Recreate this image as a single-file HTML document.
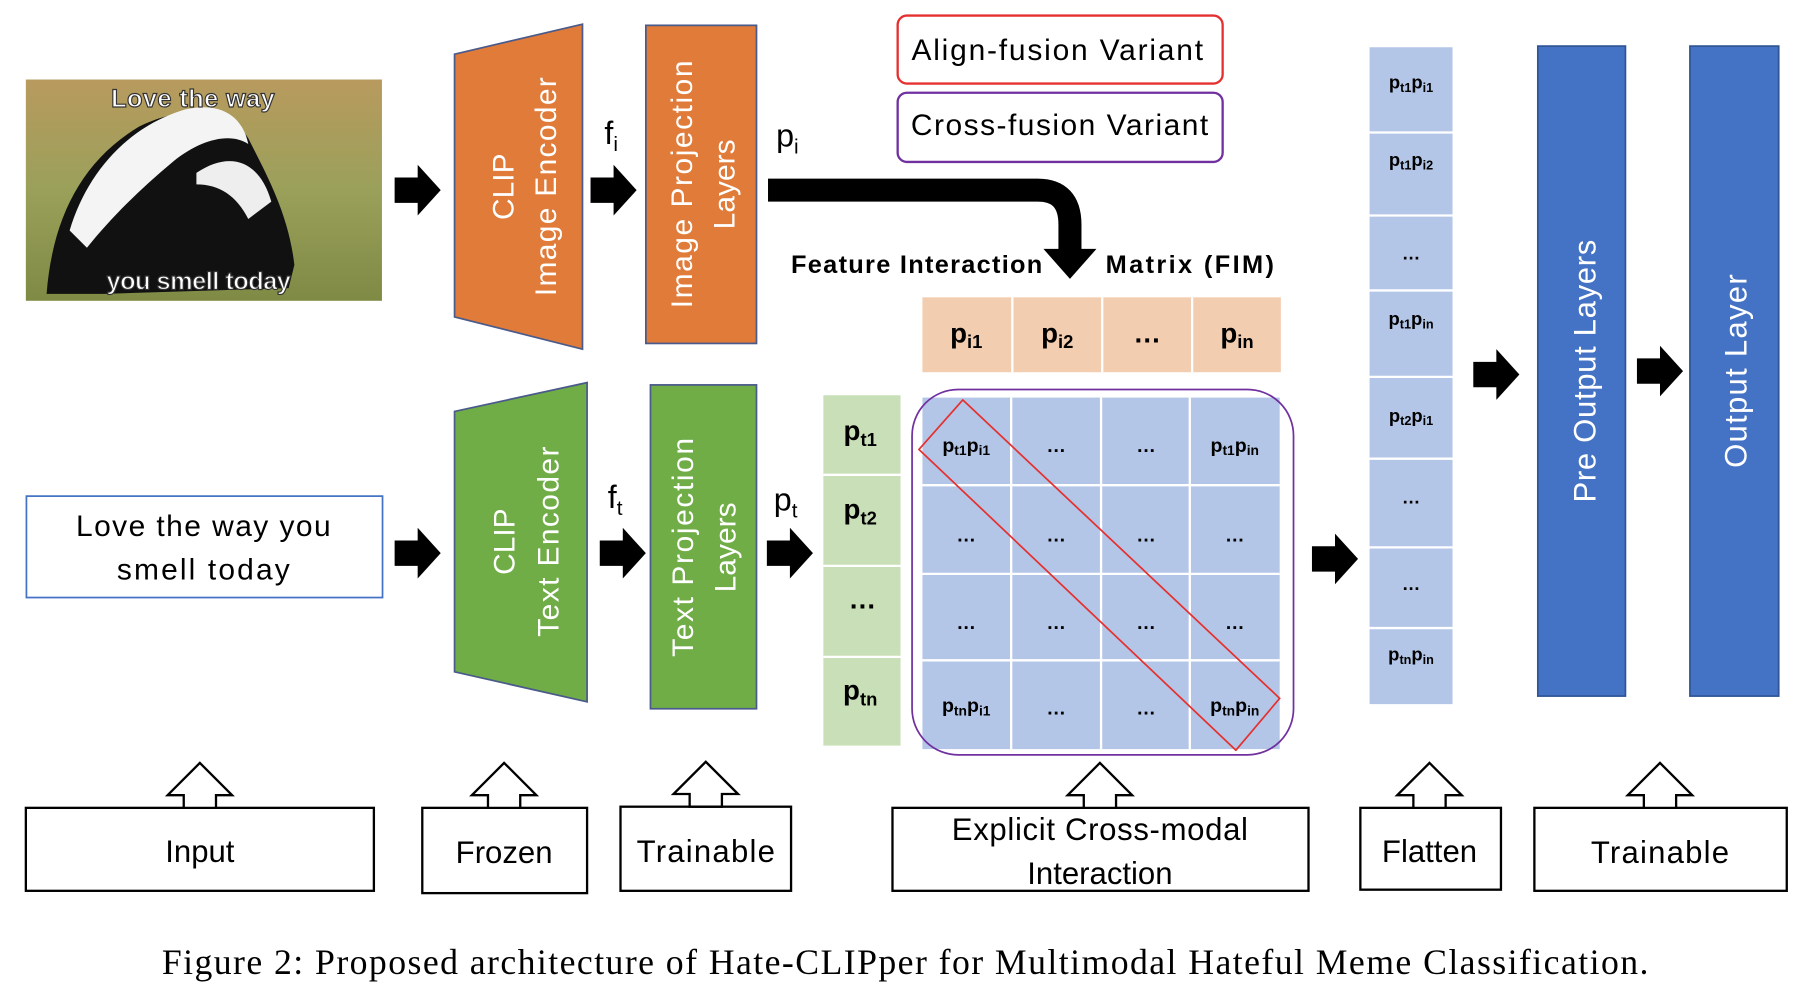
<!DOCTYPE html>
<html><head><meta charset="utf-8"><style>
html,body{margin:0;padding:0;background:#fff;}
svg{display:block;}
text{font-family:"Liberation Sans",sans-serif;}
</style></head><body>
<svg width="1808" height="998" viewBox="0 0 1568 866" xmlns="http://www.w3.org/2000/svg">
<defs>
<linearGradient id="bg" x1="0" y1="0" x2="0" y2="1">
<stop offset="0" stop-color="#b89a5e"/><stop offset="0.5" stop-color="#9aa05a"/><stop offset="1" stop-color="#7f8a44"/>
</linearGradient>
<g id="ba"><path d="M0,-11 L20,-11 L20,-22 L40,0 L20,22 L20,11 L0,11 Z" fill="#000"/></g>
<g id="ua"><path d="M0,0 L28,28 L14,28 L14,39 L-14,39 L-14,28 L-28,28 Z" fill="#fff" stroke="#000" stroke-width="2"/></g>
</defs>
<!-- meme image -->
<rect x="22" y="69" width="309" height="192" fill="url(#bg)"/>
<path d="M40,255 C45,190 70,140 120,110 C160,90 200,95 215,120 C230,150 250,185 255,230 L250,250 L90,255 Z" fill="#111"/>
<path d="M60,200 C75,150 110,110 160,95 C190,88 210,100 215,125 C200,115 175,120 150,140 C120,165 95,190 75,215 Z" fill="#f4f4f4"/>
<path d="M170,150 C200,130 225,140 235,175 L215,190 C205,170 190,160 170,160 Z" fill="#eee"/>
<text x="167" y="93" font-size="22" font-weight="bold" fill="#fff" stroke="#333" stroke-width="1" text-anchor="middle" textLength="142">Love the way</text>
<text x="172" y="251" font-size="22" font-weight="bold" fill="#fff" stroke="#333" stroke-width="1" text-anchor="middle" textLength="160">you smell today</text>
<!-- text input -->
<rect x="22.5" y="430.5" width="309" height="88" fill="#fff" stroke="#4472C4" stroke-width="1.5"/>
<text x="176" y="465" font-size="26" text-anchor="middle" textLength="221">Love the way you</text>
<text x="176" y="503" font-size="26" text-anchor="middle" textLength="150">smell today</text>
<!-- arrows -->
<use href="#ba" x="342" y="165"/><use href="#ba" x="512" y="165"/>
<use href="#ba" x="342" y="480"/><use href="#ba" x="520" y="480"/><use href="#ba" x="665" y="480"/>
<use href="#ba" x="1138" y="485"/><use href="#ba" x="1278" y="325"/><use href="#ba" x="1420" y="322"/>
<!-- image encoder -->
<polygon points="394,47 505,21 505,303 394,275" fill="#E07B39" stroke="#4a5a8a" stroke-width="1.5"/>
<text transform="translate(445,162) rotate(-90)" font-size="26" fill="#fff" text-anchor="middle">CLIP</text>
<text transform="translate(482,162) rotate(-90)" font-size="26" fill="#fff" text-anchor="middle" textLength="190">Image Encoder</text>
<rect x="560" y="22" width="96" height="276" fill="#E07B39" stroke="#4a5a8a" stroke-width="1.5"/>
<text transform="translate(600,160) rotate(-90)" font-size="26" fill="#fff" text-anchor="middle" textLength="215">Image Projection</text>
<text transform="translate(637,160) rotate(-90)" font-size="26" fill="#fff" text-anchor="middle">Layers</text>
<text x="524" y="125" font-size="28">f<tspan font-size="18" dy="6">i</tspan></text>
<text x="673" y="127" font-size="28">p<tspan font-size="18" dy="6">i</tspan></text>
<!-- text encoder -->
<polygon points="394,357 509,332 509,609 394,583" fill="#70AD47" stroke="#4a5a8a" stroke-width="1.5"/>
<text transform="translate(446,470) rotate(-90)" font-size="26" fill="#fff" text-anchor="middle">CLIP</text>
<text transform="translate(484,470) rotate(-90)" font-size="26" fill="#fff" text-anchor="middle" textLength="165">Text Encoder</text>
<rect x="564" y="334" width="92" height="281" fill="#70AD47" stroke="#4a5a8a" stroke-width="1.5"/>
<text transform="translate(601,475) rotate(-90)" font-size="26" fill="#fff" text-anchor="middle" textLength="190">Text Projection</text>
<text transform="translate(638,475) rotate(-90)" font-size="26" fill="#fff" text-anchor="middle">Layers</text>
<text x="527" y="441" font-size="28">f<tspan font-size="18" dy="6">t</tspan></text>
<text x="671" y="443" font-size="28">p<tspan font-size="18" dy="6">t</tspan></text>
<!-- big bent arrow -->
<path d="M666,165 L900,165 Q928,165 928,195 L928,218" fill="none" stroke="#000" stroke-width="20"/>
<polygon points="905,216 951,216 928,242" fill="#000"/>
<!-- variants -->
<rect x="778.5" y="13.5" width="282" height="59" rx="8" fill="#fff" stroke="#e53030" stroke-width="2"/>
<text x="917" y="52" font-size="26" text-anchor="middle" textLength="253">Align-fusion Variant</text>
<rect x="778.5" y="80.5" width="282" height="60" rx="8" fill="#fff" stroke="#7030A0" stroke-width="2"/>
<text x="919" y="117" font-size="26" text-anchor="middle" textLength="258">Cross-fusion Variant</text>
<text x="686" y="237" font-size="22" font-weight="bold" textLength="218">Feature Interaction</text>
<text x="959" y="237" font-size="22" font-weight="bold" textLength="146">Matrix (FIM)</text>
<!-- pi row -->
<rect x="800" y="258" width="311" height="65" fill="#F2CDB0"/>
<g stroke="#fff" stroke-width="2"><line x1="878" y1="258" x2="878" y2="323"/><line x1="956" y1="258" x2="956" y2="323"/><line x1="1034" y1="258" x2="1034" y2="323"/></g>
<g font-size="24" font-weight="bold" text-anchor="middle">
<text x="838" y="297">p<tspan font-size="16" dy="5">i1</tspan></text>
<text x="917" y="297">p<tspan font-size="16" dy="5">i2</tspan></text>
<text x="995" y="297">…</text>
<text x="1073" y="297">p<tspan font-size="16" dy="5">in</tspan></text>
</g>
<!-- pt column -->
<rect x="714" y="343" width="67" height="304" fill="#C9DFB8"/>
<g stroke="#fff" stroke-width="2"><line x1="714" y1="412" x2="781" y2="412"/><line x1="714" y1="491" x2="781" y2="491"/><line x1="714" y1="570" x2="781" y2="570"/></g>
<g font-size="24" font-weight="bold" text-anchor="middle">
<text x="746" y="382">p<tspan font-size="16" dy="5">t1</tspan></text>
<text x="746" y="450">p<tspan font-size="16" dy="5">t2</tspan></text>
<text x="748" y="528">…</text>
<text x="746" y="607">p<tspan font-size="16" dy="5">tn</tspan></text>
</g>
<!-- matrix -->
<rect x="800" y="345" width="310" height="305" fill="#B4C6E7"/>
<g stroke="#fff" stroke-width="2"><line x1="877" y1="345" x2="877" y2="650"/><line x1="955" y1="345" x2="955" y2="650"/><line x1="1032" y1="345" x2="1032" y2="650"/>
<line x1="800" y1="421" x2="1110" y2="421"/><line x1="800" y1="498" x2="1110" y2="498"/><line x1="800" y1="573" x2="1110" y2="573"/></g>
<g font-size="17" text-anchor="middle" font-weight="bold">
<text x="838" y="392">p<tspan font-size="12" dy="3">t1</tspan><tspan dy="-3">p</tspan><tspan font-size="12" dy="3">i1</tspan></text>
<text x="916" y="392">…</text><text x="994" y="392">…</text>
<text x="1071" y="392">p<tspan font-size="12" dy="3">t1</tspan><tspan dy="-3">p</tspan><tspan font-size="12" dy="3">in</tspan></text>
<text x="838" y="470">…</text><text x="916" y="470">…</text><text x="994" y="470">…</text><text x="1071" y="470">…</text>
<text x="838" y="546">…</text><text x="916" y="546">…</text><text x="994" y="546">…</text><text x="1071" y="546">…</text>
<text x="838" y="618">p<tspan font-size="12" dy="3">tn</tspan><tspan dy="-3">p</tspan><tspan font-size="12" dy="3">i1</tspan></text>
<text x="916" y="620">…</text><text x="994" y="620">…</text>
<text x="1071" y="618">p<tspan font-size="12" dy="3">tn</tspan><tspan dy="-3">p</tspan><tspan font-size="12" dy="3">in</tspan></text>
</g>
<rect x="791" y="338" width="331" height="317" rx="40" fill="none" stroke="#7030A0" stroke-width="1.5"/>
<polygon points="835,347 797,390 1072,651 1110,606" fill="none" stroke="#e53030" stroke-width="1.5" stroke-linejoin="round"/>
<!-- flatten column -->
<rect x="1188" y="41" width="72" height="570" fill="#B4C6E7"/>
<g stroke="#fff" stroke-width="2">
<line x1="1188" y1="115" x2="1260" y2="115"/><line x1="1188" y1="187" x2="1260" y2="187"/><line x1="1188" y1="252" x2="1260" y2="252"/><line x1="1188" y1="327" x2="1260" y2="327"/><line x1="1188" y1="398" x2="1260" y2="398"/><line x1="1188" y1="475" x2="1260" y2="475"/><line x1="1188" y1="545" x2="1260" y2="545"/></g>
<g font-size="16" text-anchor="middle" font-weight="bold">
<text x="1224" y="77">p<tspan font-size="11" dy="3">t1</tspan><tspan dy="-3">p</tspan><tspan font-size="11" dy="3">i1</tspan></text>
<text x="1224" y="144">p<tspan font-size="11" dy="3">t1</tspan><tspan dy="-3">p</tspan><tspan font-size="11" dy="3">i2</tspan></text>
<text x="1224" y="225">…</text>
<text x="1224" y="282">p<tspan font-size="11" dy="3">t1</tspan><tspan dy="-3">p</tspan><tspan font-size="11" dy="3">in</tspan></text>
<text x="1224" y="366">p<tspan font-size="11" dy="3">t2</tspan><tspan dy="-3">p</tspan><tspan font-size="11" dy="3">i1</tspan></text>
<text x="1224" y="437">…</text><text x="1224" y="512">…</text>
<text x="1224" y="573">p<tspan font-size="11" dy="3">tn</tspan><tspan dy="-3">p</tspan><tspan font-size="11" dy="3">in</tspan></text>
</g>
<!-- output layers -->
<rect x="1334" y="40" width="76" height="564" fill="#4472C4" stroke="#2F5597" stroke-width="1.5"/>
<text transform="translate(1384,322) rotate(-90)" font-size="27" fill="#fff" text-anchor="middle" textLength="228">Pre Output Layers</text>
<rect x="1466" y="40" width="77" height="564" fill="#4472C4" stroke="#2F5597" stroke-width="1.5"/>
<text transform="translate(1515,322) rotate(-90)" font-size="27" fill="#fff" text-anchor="middle" textLength="168">Output Layer</text>
<!-- bottom boxes -->
<g fill="#fff" stroke="#000" stroke-width="2">
<rect x="22" y="701" width="302" height="72"/><rect x="366" y="701" width="143" height="74"/><rect x="538" y="700" width="148" height="73"/>
<rect x="774" y="701" width="361" height="72"/><rect x="1180" y="701" width="122" height="71"/><rect x="1331" y="701" width="219" height="72"/>
</g>
<use href="#ua" x="173" y="662"/><use href="#ua" x="437" y="662"/><use href="#ua" x="612" y="661"/>
<use href="#ua" x="954" y="662"/><use href="#ua" x="1240" y="662"/><use href="#ua" x="1440" y="662"/>
<g font-size="27" text-anchor="middle">
<text x="173" y="748">Input</text><text x="437" y="749">Frozen</text><text x="612" y="748" textLength="120">Trainable</text>
<text x="954" y="729" textLength="257">Explicit Cross-modal</text><text x="954" y="767">Interaction</text>
<text x="1240" y="748">Flatten</text><text x="1440" y="749" textLength="120">Trainable</text>
</g>
<text x="785" y="845" font-size="31" text-anchor="middle" textLength="1290" style="font-family:'Liberation Serif',serif">Figure 2: Proposed architecture of Hate-CLIPper for Multimodal Hateful Meme Classification.</text>
</svg>
</body></html>
